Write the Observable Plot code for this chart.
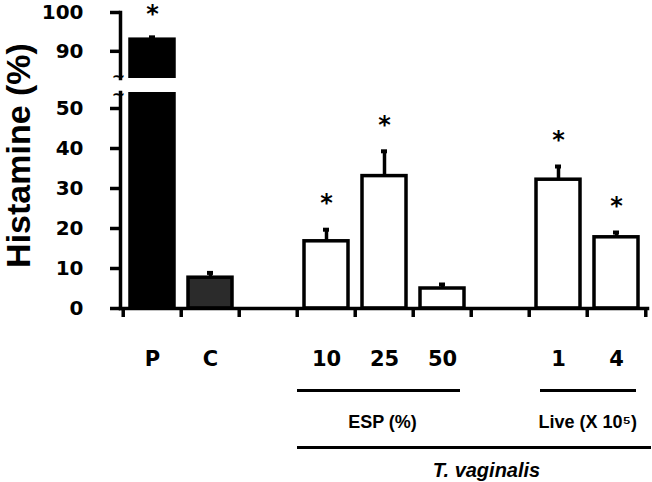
<!DOCTYPE html>
<html><head><meta charset="utf-8">
<script src="https://cdn.jsdelivr.net/npm/d3@7"></script>
<script src="https://cdn.jsdelivr.net/npm/@observablehq/plot@0.6"></script>
<style>
body{margin:0;background:#fff}
#c{position:relative;width:652px;height:482px}
#c svg{position:absolute;left:0;top:0;overflow:visible}
</style>
</head><body><div id="c"></div>
<script>
// ---- data ----
const categories = ["P", "C", "gap1", "10", "25", "50", "gap2", "1", "4"];
const means      = [93.0, 7.7, null, 16.8, 33.1, 5.0, null, 32.2, 17.8];
const errors     = [0.6, 1.2, null, 2.9, 6.2, 1.0, null, 3.3, 1.2];
const significant= [true, false, false, true, true, false, false, true, true];
const kinds      = ["positive", "control", null, "esp", "esp", "esp", null, "live", "live"];
const yTicksLower = [0, 10, 20, 30, 40, 50];
const yTicksUpper = [90, 100];
const yTitle = "Histamine (%)";
const breakSymbol = "~\n~";
const groupESP = {label: "ESP (%)", from: "10", to: "50", mid: "25"};
const groupLive = {label: "Live (X 10\u2075)", from: "1", to: "4", mid: "1"};
const groupAll = {label: "T. vaginalis", from: "10", to: "4", mid: "gap2"};

const rows = categories.map((c, i) => ({cat: c, mean: means[i], err: errors[i], sig: significant[i], kind: kinds[i]}))
  .filter(d => d.mean != null);

const fillOf = {positive: "#000", control: "#2b2b2b", esp: "#fff", live: "#fff"};
const W = 652, ML = 120, MR = 5;
const step = (W - ML - MR) / categories.length;
const LOW_MAX = 54, UP_MIN = 83, UP_MAX = 100;
const SW = 3.5;
const xOpts = {domain: categories, paddingInner: 0.25, paddingOuter: 0.125};
const numFont = "DejaVu Sans";
const txtFont = "Liberation Sans";

const lowRows = rows.filter(d => d.mean + d.err < LOW_MAX);
const upRows = rows.filter(d => d.mean > UP_MIN);

const lower = Plot.plot({
  width: W, height: 482, marginLeft: ML, marginRight: MR, marginTop: 92, marginBottom: 174,
  x: xOpts,
  y: {domain: [0, LOW_MAX]},
  style: {fontFamily: numFont, background: "transparent", color: "#000"},
  marks: [
    Plot.barY(rows, {x: "cat", y: "mean", fill: d => fillOf[d.kind], stroke: "#000", strokeWidth: SW, clip: true}),
    Plot.ruleX(lowRows, {x: "cat", y1: "mean", y2: d => d.mean + d.err, strokeWidth: SW}),
    Plot.tickY(lowRows, {x: "cat", y: d => d.mean + d.err, strokeWidth: 4, insetLeft: 19, insetRight: 19}),
    Plot.text(lowRows.filter(d => d.sig), {x: "cat", y: d => d.mean + d.err, text: () => "*", dy: -26, fontSize: 24, fontWeight: "bold"}),
    Plot.frame({anchor: "left", strokeWidth: SW}),
    Plot.frame({anchor: "bottom", strokeWidth: SW}),
    Plot.ruleX(categories, {x: d => d, dx: -step / 2, y1: () => 0, y2: () => 0, insetTop: 9, strokeWidth: SW}),
    Plot.ruleX(categories.slice(-1), {x: d => d, dx: step / 2, y1: () => 0, y2: () => 0, insetTop: 9, strokeWidth: SW}),
    Plot.axisY(yTicksLower, {tickSize: 10, tickPadding: 27, fontSize: 20, fontWeight: "bold", strokeWidth: SW, label: null}),
    Plot.axisX({tickSize: 0, tickPadding: 43, fontSize: 21, fontWeight: "bold", tickFormat: d => d.startsWith("gap") ? "" : d, label: null}),
    // axis break symbol
    Plot.text([breakSymbol], {frameAnchor: "top-left", textAnchor: "middle", lineAnchor: "middle", lineHeight: 1.1, dx: -2, dy: -7, fontSize: 16, fontWeight: "bold"}),
    // group annotations
    Plot.ruleY([groupESP], {x1: "from", x2: "to", y: () => 0, dy: 82, insetLeft: -7, insetRight: 4, strokeWidth: 3}),
    Plot.text([groupESP], {x: "mid", y: () => 0, text: "label", dy: 114, dx: -2, fontSize: 18, fontWeight: "bold", fontFamily: txtFont}),
    Plot.ruleY([groupLive], {x1: "from", x2: "to", y: () => 0, dy: 82, insetLeft: 4, insetRight: 2, strokeWidth: 3}),
    Plot.text([groupLive], {x: "mid", y: () => 0, text: "label", dy: 114, dx: step / 2, fontSize: 18, fontWeight: "bold", fontFamily: txtFont}),
    Plot.ruleY([groupAll], {x1: "from", x2: "to", y: () => 0, dy: 139, insetLeft: -7, insetRight: -13, strokeWidth: 3}),
    Plot.text([groupAll], {x: "mid", y: () => 0, text: "label", dy: 162, dx: -14, fontSize: 20, fontWeight: "bold", fontStyle: "italic", fontFamily: txtFont}),
    // y title
    Plot.text([yTitle], {frameAnchor: "left", textAnchor: "middle", lineAnchor: "middle", rotate: -90, dx: -101, dy: -45, fontSize: 34, fontWeight: "bold", fontFamily: txtFont})
  ]
});

const upper = Plot.plot({
  width: W, height: 80, marginLeft: ML, marginRight: MR, marginTop: 12, marginBottom: 2,
  x: {...xOpts, axis: null},
  y: {domain: [UP_MIN, UP_MAX]},
  style: {fontFamily: numFont, background: "transparent", color: "#000"},
  marks: [
    Plot.barY(upRows, {x: "cat", y1: () => UP_MIN, y2: "mean", fill: d => fillOf[d.kind], stroke: "#000", strokeWidth: SW, clip: true}),
    Plot.ruleX(upRows, {x: "cat", y1: "mean", y2: d => d.mean + d.err, strokeWidth: SW}),
    Plot.tickY(upRows, {x: "cat", y: d => d.mean + d.err, strokeWidth: 4, insetLeft: 19, insetRight: 19}),
    Plot.text(upRows.filter(d => d.sig), {x: "cat", y: d => d.mean + d.err, text: () => "*", dy: -23, fontSize: 24, fontWeight: "bold"}),
    Plot.frame({anchor: "left", strokeWidth: SW}),
    Plot.axisY(yTicksUpper, {tickSize: 10, tickPadding: 27, fontSize: 20, fontWeight: "bold", strokeWidth: SW, label: null})
  ]
});

const c = document.getElementById("c");
c.appendChild(lower);
c.appendChild(upper);
</script>
</body></html>
